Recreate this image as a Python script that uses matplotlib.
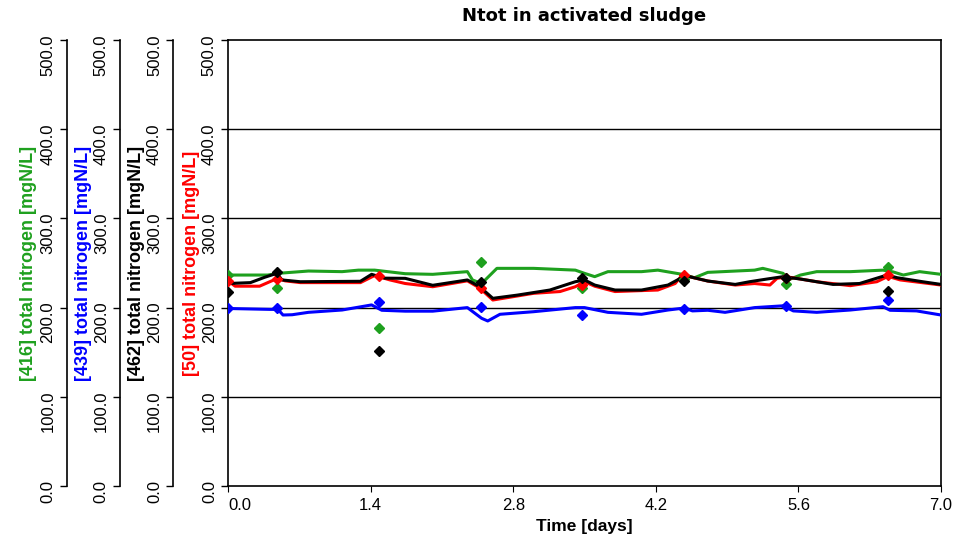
import matplotlib.pyplot as plt
import numpy as np

plt.rcParams['font.family'] = ['Liberation Sans', 'DejaVu Sans']

# simulated total nitrogen per reactor (time in days, mgN/L)
green_t = [0.0, 0.39, 0.49, 0.79, 1.12, 1.28, 1.44, 1.74, 2.01, 2.35, 2.40, 2.49,
           2.64, 3.0, 3.41, 3.50, 3.60, 3.73, 4.06, 4.22, 4.46, 4.58, 4.71, 5.17,
           5.25, 5.45, 5.50, 5.62, 5.78, 6.11, 6.43, 6.53, 6.63, 6.79, 7.0]
green_v = [236.5, 236.5, 238.4, 241, 240.3, 242, 242, 238, 237.3, 240.3, 231, 227,
           244, 244, 242, 238.4, 234.7, 240.3, 240.3, 242, 237.3, 233.5, 239.5, 242,
           244, 238.4, 231, 236.5, 240.3, 240.3, 242, 240, 236.5, 240.3, 237.3]

blue_t = [0.0, 0.41, 0.49, 0.54, 0.63, 0.79, 1.12, 1.41, 1.51, 1.74, 2.01, 2.35,
          2.49, 2.55, 2.67, 3.0, 3.41, 3.50, 3.73, 4.06, 4.32, 4.48, 4.56, 4.71,
          4.88, 5.17, 5.45, 5.55, 5.78, 6.11, 6.43, 6.50, 6.76, 7.0]
blue_v = [199, 198, 198, 191.7, 192, 194.7, 197.3, 203, 197, 196, 196, 200,
          188, 185, 192.5, 195.4, 200, 200, 194.7, 192.5, 197.3, 199.5, 196.3, 197,
          194.7, 200, 202, 196.3, 194.7, 197.3, 201, 197, 196.3, 191.7]

black_t = [0.0, 0.22, 0.36, 0.48, 0.53, 0.71, 1.30, 1.41, 1.54, 1.74, 2.01, 2.35,
           2.47, 2.60, 2.84, 3.16, 3.41, 3.50, 3.60, 3.80, 4.06, 4.32, 4.49, 4.71,
           4.98, 5.12, 5.29, 5.45, 5.62, 5.94, 6.20, 6.47, 6.57, 6.82, 7.0]
black_v = [227, 228, 234, 238.4, 231, 229, 229.5, 237.3, 233, 232.8, 225, 231,
           223.5, 210.4, 214, 219.7, 229, 231, 225.3, 219.7, 219.7, 225.3, 235.8, 229.8,
           226, 229, 232, 234.7, 232, 226, 227, 236.5, 233.5, 229, 226]

red_t = [0.0, 0.07, 0.31, 0.43, 0.49, 0.56, 0.71, 1.30, 1.44, 1.59, 1.74, 2.01,
         2.35, 2.47, 2.60, 3.0, 3.26, 3.41, 3.50, 3.60, 3.80, 4.22, 4.39, 4.46,
         4.71, 4.98, 5.17, 5.32, 5.39, 5.49, 5.78, 6.11, 6.37, 6.48, 6.60, 7.0]
red_v = [230, 224, 224, 230, 233, 230, 228, 228, 236, 231, 227, 223.4,
         230, 222, 208.5, 216, 218, 223.4, 229, 224, 218, 219.7, 227, 236.5,
         229.8, 225.3, 227, 225.3, 232.8, 234.5, 229, 224.6, 229, 235, 231, 225.3]

# measurements
meas_t = [0.0, 0.48, 1.48, 2.48, 3.48, 4.48, 5.48, 6.48]
green_meas = [236, 221.6, 177.5, 251.5, 221.6, 232, 227, 245.9]
blue_meas = [199, 200, 206.7, 201, 191.7, 198.4, 202, 208.5]
black_meas = [218, 240, 151, 228.7, 233.5, 230, 233.5, 218.6]
red_meas = [230, 232, 235.8, 222, 225, 236, 233, 236]

xticks = [0.0, 1.4, 2.8, 4.2, 5.6, 7.0]
yticks = [0, 100, 200, 300, 400, 500]

series = [
    ('[416] total nitrogen [mgN/L]', '#1ea01e', green_t, green_v, green_meas),
    ('[439] total nitrogen [mgN/L]', '#0000ff', blue_t, blue_v, blue_meas),
    ('[462] total nitrogen [mgN/L]', 'black', black_t, black_v, black_meas),
    ('[50] total nitrogen [mgN/L]', '#ff0000', red_t, red_v, red_meas),
]

fig = plt.figure(figsize=(9.59, 5.39), dpi=100)
pos = [228 / 959, 53 / 539, 713 / 959, 446 / 539]
ax = fig.add_axes(pos)

spine_x = [-0.2262, -0.1515, -0.0771, 0.0]
label_x = [-0.2679, -0.1907, -0.1164, -0.0393]

axes = []
for i in range(3):
    a = fig.add_axes(pos)
    a.patch.set_visible(False)
    for s in ['top', 'right', 'bottom']:
        a.spines[s].set_visible(False)
    a.spines['left'].set_position(('axes', spine_x[i]))
    a.set_xticks([])
    axes.append(a)
axes.append(ax)

for a, (lab, col, t, v, m), lx in zip(axes, series, label_x):
    a.set_ylim(0, 500)
    a.set_yticks(yticks)
    a.set_yticklabels(['%.1f' % y for y in yticks])
    a.tick_params(axis='y', direction='out', length=5, width=1, pad=3,
                  labelrotation=90, labelsize=12)
    a.set_ylabel(lab, color=col, fontsize=13, fontweight='bold')
    a.yaxis.set_label_coords(lx, 0.5)
    a.spines['left'].set_linewidth(1.2)

# lines then measurement points
order = [0, 1, 3, 2]
for k in order:
    lab, col, t, v, m = series[k]
    ax.plot(t, v, color=col, lw=2.2, zorder=3)
for k in order:
    lab, col, t, v, m = series[k]
    ax.plot(meas_t, m, 'D', color=col, ms=5, zorder=4)

ax.set_xlim(0, 7)
ax.set_xticks(xticks)
ax.set_xticklabels(['%.1f' % x for x in xticks])
ax.get_xticklabels()[0].set_ha('left')
ax.tick_params(axis='x', direction='out', length=4, pad=5, labelsize=12)
ax.set_xlabel('Time [days]', fontsize=12.5, fontweight='bold', labelpad=4)

for y in [100, 200, 300, 400]:
    ax.axhline(y, color='black', lw=1, zorder=2)
for s in ax.spines.values():
    s.set_linewidth(1.2)

fig.text(584.5 / 959, 1 - 16 / 539, 'Ntot in activated sludge', family='DejaVu Sans',
         fontsize=13, fontweight='bold', ha='center', va='center')

fig.savefig('out.png', dpi=100)
